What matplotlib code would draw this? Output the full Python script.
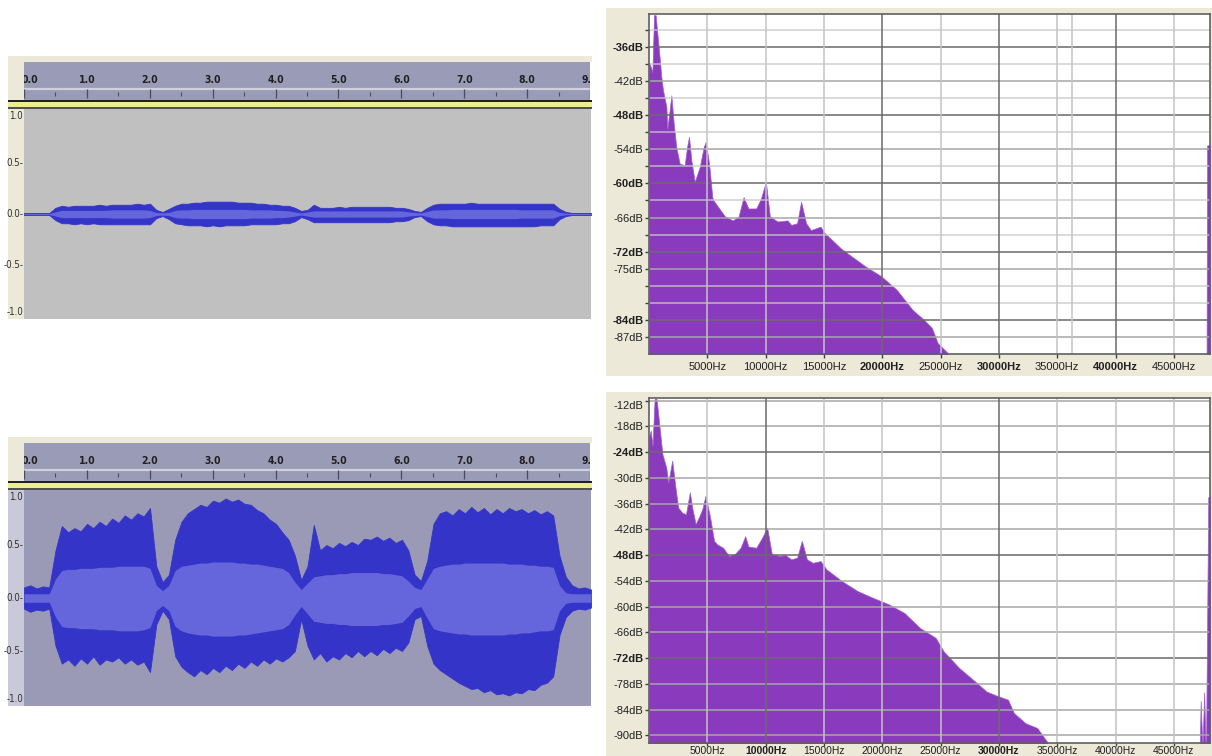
import numpy as np
import matplotlib.pyplot as plt

W, H = 1212, 756

BEIGE = '#ece9d8'
RULER = '#9a9bb6'
PEAK = '#3434c8'
RMS = '#6666dc'
PURPLE = '#8a3bbd'
SANS = ['Liberation Sans', 'DejaVu Sans']

# time grid of the envelopes (seconds)
t = np.round(np.arange(0, 9.01, 0.1), 1)

# quiet take: peak envelope and rms band
quiet_max = [
    0.01, 0.01, 0.01, 0.01, 0.01,
    0.06, 0.08, 0.07, 0.08, 0.08, 0.08, 0.08, 0.09, 0.08, 0.09,
    0.09, 0.09, 0.09, 0.10, 0.09, 0.10,
    0.04, 0.02, 0.05, 0.08,
    0.10, 0.10, 0.11, 0.11, 0.12, 0.12, 0.12, 0.12, 0.12, 0.11,
    0.11, 0.11, 0.10, 0.10, 0.09, 0.09, 0.08, 0.08, 0.06, 0.03,
    0.04, 0.09, 0.06, 0.06, 0.06, 0.07, 0.06, 0.07, 0.07, 0.07,
    0.07, 0.07, 0.07, 0.07, 0.06, 0.06, 0.05, 0.03, 0.02, 0.06,
    0.09, 0.10, 0.10, 0.10, 0.10, 0.10, 0.11, 0.10, 0.10, 0.10,
    0.10, 0.10, 0.10, 0.10, 0.10, 0.10, 0.10, 0.10, 0.10, 0.10,
    0.05, 0.02, 0.01, 0.01, 0.01, 0.01,
]
quiet_min = [
    -0.01, -0.01, -0.01, -0.01, -0.01,
    -0.06, -0.09, -0.09, -0.10, -0.09, -0.10, -0.09, -0.10, -0.10, -0.10,
    -0.10, -0.10, -0.10, -0.10, -0.10, -0.10,
    -0.04, -0.02, -0.05, -0.09,
    -0.10, -0.11, -0.11, -0.11, -0.12, -0.11, -0.12, -0.11, -0.11, -0.11,
    -0.11, -0.10, -0.10, -0.10, -0.10, -0.10, -0.09, -0.09, -0.07, -0.03,
    -0.05, -0.08, -0.08, -0.08, -0.08, -0.08, -0.08, -0.08, -0.08, -0.08,
    -0.08, -0.08, -0.08, -0.08, -0.07, -0.07, -0.06, -0.03, -0.02, -0.07,
    -0.10, -0.11, -0.11, -0.12, -0.12, -0.12, -0.12, -0.12, -0.12, -0.12,
    -0.12, -0.12, -0.12, -0.12, -0.12, -0.12, -0.12, -0.11, -0.11, -0.11,
    -0.05, -0.02, -0.01, -0.01, -0.01, -0.01,
]
quiet_rms = [
    0.005, 0.005, 0.005, 0.005, 0.005,
    0.02, 0.035, 0.035, 0.035, 0.035, 0.035, 0.035, 0.035, 0.035, 0.04,
    0.04, 0.04, 0.04, 0.04, 0.04, 0.035,
    0.015, 0.01, 0.015, 0.035,
    0.04, 0.04, 0.045, 0.045, 0.045, 0.045, 0.045, 0.045, 0.045, 0.045,
    0.045, 0.04, 0.04, 0.04, 0.04, 0.035, 0.035, 0.03, 0.02, 0.01,
    0.02, 0.03, 0.03, 0.03, 0.03, 0.03, 0.03, 0.03, 0.03, 0.03,
    0.03, 0.03, 0.03, 0.03, 0.03, 0.03, 0.02, 0.015, 0.01, 0.025,
    0.04, 0.04, 0.04, 0.045, 0.045, 0.045, 0.045, 0.045, 0.045, 0.045,
    0.045, 0.045, 0.045, 0.045, 0.04, 0.04, 0.04, 0.04, 0.04, 0.04,
    0.015, 0.008, 0.005, 0.005, 0.005, 0.005,
]

# amplified take
loud_max = [
    0.10, 0.12, 0.09, 0.11, 0.10,
    0.45, 0.68, 0.62, 0.66, 0.63, 0.70, 0.66, 0.72, 0.68, 0.75,
    0.71, 0.78, 0.74, 0.80, 0.77, 0.85,
    0.30, 0.15, 0.22, 0.55,
    0.72, 0.80, 0.84, 0.88, 0.86, 0.92, 0.90, 0.94, 0.91, 0.93,
    0.89, 0.88, 0.83, 0.80, 0.74, 0.70, 0.62, 0.55, 0.40, 0.17,
    0.30, 0.69, 0.45, 0.50, 0.47, 0.52, 0.49, 0.53, 0.50, 0.56,
    0.55, 0.58, 0.54, 0.57, 0.52, 0.55, 0.45, 0.22, 0.16, 0.35,
    0.70, 0.80, 0.82, 0.78, 0.84, 0.80, 0.86, 0.81, 0.85, 0.79,
    0.84, 0.80, 0.85, 0.82, 0.84, 0.80, 0.83, 0.79, 0.82, 0.78,
    0.40, 0.20, 0.12, 0.09, 0.10, 0.08,
]
loud_min = [
    -0.10, -0.13, -0.11, -0.12, -0.10,
    -0.45, -0.62, -0.58, -0.64, -0.57, -0.62, -0.55, -0.63, -0.58, -0.60,
    -0.56, -0.62, -0.58, -0.63, -0.60, -0.70,
    -0.25, -0.12, -0.20, -0.55,
    -0.65, -0.70, -0.74, -0.68, -0.72, -0.66, -0.70, -0.64, -0.68, -0.62,
    -0.66, -0.60, -0.64, -0.58, -0.62, -0.57, -0.60, -0.56, -0.50, -0.20,
    -0.45, -0.58, -0.52, -0.60, -0.55, -0.58, -0.52, -0.56, -0.50, -0.55,
    -0.50, -0.54, -0.48, -0.52, -0.47, -0.50, -0.42, -0.20, -0.17, -0.45,
    -0.62, -0.68, -0.72, -0.76, -0.80, -0.83, -0.86, -0.85, -0.89, -0.87,
    -0.91, -0.90, -0.92, -0.89, -0.90, -0.86, -0.87, -0.82, -0.80, -0.74,
    -0.35, -0.18, -0.12, -0.10, -0.11, -0.09,
]
loud_rms_hi = [
    0.04, 0.04, 0.04, 0.04, 0.04,
    0.18, 0.26, 0.27, 0.27, 0.28, 0.28, 0.28, 0.29, 0.29, 0.29,
    0.30, 0.30, 0.30, 0.30, 0.30, 0.28,
    0.12, 0.07, 0.12, 0.26,
    0.30, 0.31, 0.32, 0.33, 0.33, 0.34, 0.34, 0.34, 0.34, 0.33,
    0.33, 0.32, 0.32, 0.31, 0.30, 0.29, 0.28, 0.24, 0.15, 0.08,
    0.14, 0.20, 0.21, 0.22, 0.22, 0.23, 0.23, 0.24, 0.24, 0.24,
    0.24, 0.24, 0.23, 0.23, 0.22, 0.21, 0.16, 0.10, 0.08, 0.18,
    0.28, 0.30, 0.31, 0.32, 0.32, 0.33, 0.33, 0.33, 0.33, 0.33,
    0.33, 0.33, 0.32, 0.32, 0.32, 0.31, 0.31, 0.30, 0.30, 0.29,
    0.12, 0.05, 0.04, 0.04, 0.04, 0.04,
]
loud_rms_lo = [
    -0.04, -0.04, -0.04, -0.04, -0.04,
    -0.18, -0.27, -0.28, -0.28, -0.29, -0.29, -0.29, -0.30, -0.30, -0.30,
    -0.31, -0.31, -0.31, -0.31, -0.30, -0.28,
    -0.12, -0.07, -0.12, -0.27,
    -0.31, -0.33, -0.34, -0.35, -0.35, -0.36, -0.36, -0.36, -0.36, -0.35,
    -0.35, -0.34, -0.33, -0.32, -0.31, -0.30, -0.29, -0.25, -0.16, -0.08,
    -0.15, -0.22, -0.23, -0.24, -0.24, -0.25, -0.25, -0.26, -0.26, -0.26,
    -0.26, -0.26, -0.25, -0.25, -0.24, -0.23, -0.17, -0.10, -0.08, -0.19,
    -0.29, -0.31, -0.32, -0.33, -0.34, -0.34, -0.35, -0.35, -0.35, -0.35,
    -0.35, -0.35, -0.34, -0.34, -0.33, -0.33, -0.32, -0.31, -0.31, -0.30,
    -0.12, -0.05, -0.04, -0.04, -0.04, -0.04,
]

# spectrum of the quiet take
spec_top_hz = [0, 290, 430, 570, 770, 910, 1060, 1200, 1490, 1570, 1770, 1920,
               2120, 2340, 2630, 3060, 3260, 3430, 3630, 3920, 4350, 4690, 4860,
               5150, 5430, 5500, 6510, 7180, 7680, 8110, 8520, 9190, 9590, 10020,
               10360, 11030, 11870, 12200, 12700, 13040, 13470, 13880, 14710,
               15050, 16550, 18560, 19900, 21240, 22580, 23580, 24250, 24760,
               25600, 25900, 47800, 47850, 48100]
spec_top_db = [-38.6, -40.4, -30.4, -30.4, -34.8, -37.8, -41.3, -43.6, -46.5,
               -50.4, -47.1, -44.5, -49.5, -53.6, -56.5, -56.8, -53.6, -51.8,
               -55.9, -59.7, -57.1, -53.6, -52.7, -56.5, -62.4, -62.9, -65.8,
               -66.5, -65.8, -62.4, -64.4, -64.4, -62.7, -59.7, -65.8, -66.7,
               -66.5, -67.3, -67.0, -63.2, -67.0, -68.2, -67.6, -68.7, -71.6,
               -74.6, -76.3, -78.7, -82.2, -84.0, -85.4, -88.1, -89.8, -95.0,
               -95.0, -53.3, -53.3]

# spectrum of the amplified take
spec_bot_hz = [0, 150, 300, 480, 650, 880, 1150, 1480, 1650, 1990, 2230, 2500,
               2830, 3170, 3500, 3700, 4000, 4340, 4570, 4840, 5240, 5580, 5840,
               6350, 6850, 7350, 7850, 8250, 8520, 9190, 9690, 10130, 10530,
               11200, 11700, 12200, 12700, 13100, 13540, 14040, 14710, 15200,
               16550, 17890, 19230, 20570, 21900, 23240, 24580, 25250, 26590,
               27930, 28940, 29940, 30780, 31280, 32290, 33290, 34130, 34400,
               47200, 47300, 47450, 47600, 47750, 47850, 47950, 48100]
spec_bot_db = [-20.5, -19.0, -22.5, -11.6, -11.6, -17.5, -24.5, -27.6, -31.1,
               -26.0, -31.4, -36.9, -38.1, -38.5, -33.4, -36.9, -40.8, -38.8,
               -37.3, -34.2, -39.2, -44.7, -45.5, -46.3, -48.2, -47.8, -46.3,
               -43.6, -46.0, -46.3, -44.0, -41.6, -47.8, -48.2, -48.0, -49.0,
               -48.6, -44.7, -49.0, -49.8, -49.4, -51.3, -54.1, -56.4, -58.0,
               -59.5, -61.5, -65.0, -67.3, -70.4, -74.3, -77.4, -79.8, -80.9,
               -81.7, -84.8, -87.2, -88.3, -91.5, -96.0, -96.0, -82.0, -93.0,
               -80.0, -96.0, -65.0, -34.5, -34.5]

freq_ticks = [5000, 10000, 15000, 20000, 25000, 30000, 35000, 40000, 45000]


def rect(x0, y0, x1, y1):
    return [x0 / W, 1 - y1 / H, (x1 - x0) / W, (y1 - y0) / H]


def blank(fig, x0, y0, x1, y1, color):
    ax = fig.add_axes(rect(x0, y0, x1, y1))
    ax.set_facecolor(color)
    ax.set_xticks([])
    ax.set_yticks([])
    for s in ax.spines.values():
        s.set_visible(False)
    return ax


def track(fig, y0, wave_bg, strip_bg, hi, lo, rhi, rlo):
    # y0 = top of the track frame; layout in pixels below it
    blank(fig, 8, y0, 592, y0 + 6, BEIGE)
    blank(fig, 8, y0 + 6, 24, y0 + 44, BEIGE)
    r = blank(fig, 24, y0 + 6, 590, y0 + 44, RULER)
    r.set_xlim(0, 9)
    r.set_ylim(0, 1)
    r.axhline(0.3, color='#cfd0dc', lw=1.6)
    r.vlines(np.arange(10), 0.06, 0.28, color='#4a4a60', lw=0.9)
    r.vlines(np.arange(0.5, 9, 1), 0.1, 0.2, color='#4a4a60', lw=0.8)
    for i in range(10):
        x = i + 0.1 if i == 0 else i
        r.text(x, 0.52, f"{i}.0", ha='center', va='center', fontsize=7.5,
               family='DejaVu Sans', fontstretch='condensed',
               fontweight='bold', color='#202020', clip_on=True)
    blank(fig, 8, y0 + 44, 592, y0 + 46, '#202020')
    blank(fig, 8, y0 + 46, 592, y0 + 51, '#eeee90')
    blank(fig, 8, y0 + 51, 592, y0 + 53, '#505050')

    bottom = y0 + 53 + (210 if y0 < 300 else 216)
    s = blank(fig, 8, y0 + 53, 24, bottom, strip_bg)
    ax = blank(fig, 24, y0 + 53, 591, bottom, wave_bg)
    ax.set_xlim(0, 9)
    ax.set_ylim(-1.02, 1.02)
    ax.fill_between(t, lo, hi, color=PEAK, lw=0.6, edgecolor=PEAK)
    ax.fill_between(t, rlo, rhi, color=RMS, lw=0)

    s.set_xlim(0, 1)
    s.set_ylim(-1.02, 1.02)
    for v, lab, va in [(1.0, '1.0', 'top'), (0.5, '0.5-', 'center'),
                       (0.0, '0.0-', 'center'), (-0.5, '-0.5-', 'center'),
                       (-1.0, '-1.0', 'bottom')]:
        s.text(0.95, v, lab, ha='right', va=va, fontsize=7,
               family='DejaVu Sans', fontstretch='condensed',
               color='#303030')


def spectrum(fig, box, hz, db, ylim, yticks, ybold, minor, vdark, extra_v,
             xpad):
    ax = fig.add_axes(rect(*box))
    ax.set_facecolor('white')
    ax.fill_between(hz, db, -120, color=PURPLE, lw=0.5, edgecolor='#a060d0')
    ax.set_xlim(0, 48100)
    ax.set_ylim(*ylim)

    for v in minor:
        ax.axhline(v, color='#c8c8c8', lw=1.2, alpha=0.8)
    for v in yticks:
        c = '#6a6a6a' if v in ybold else '#a6a6a6'
        ax.axhline(v, color=c, lw=1.3, alpha=0.85)
    for f in freq_ticks + extra_v:
        c = '#6a6a6a' if f in vdark else '#c4c4c4'
        ax.axvline(f, color=c, lw=1.3, alpha=0.85)

    ax.set_yticks(yticks)
    ax.set_yticklabels([f"{v}dB" for v in yticks])
    ax.set_yticks(minor, minor=True)
    ax.set_xticks(freq_ticks)
    ax.set_xticklabels([f"{f}Hz" for f in freq_ticks])
    ax.tick_params(axis='both', which='both', direction='out', length=3,
                   width=1, color='#404040', labelsize=8, pad=1)
    ax.tick_params(axis='x', pad=xpad)
    for lab, v in zip(ax.get_yticklabels(), yticks):
        lab.set_family(SANS)
        lab.set_color('#202020')
        if v in ybold:
            lab.set_fontweight('bold')
    for lab, f in zip(ax.get_xticklabels(), freq_ticks):
        lab.set_family(SANS)
        lab.set_color('#202020')
        if f in vdark:
            lab.set_fontweight('bold')
    for sp in ax.spines.values():
        sp.set_color('#606060')
        sp.set_linewidth(1.2)
    return ax


fig = plt.figure(figsize=(W / 100, H / 100), dpi=100)
fig.patch.set_facecolor('white')

# waveform tracks
track(fig, 56, '#c0c0c0', BEIGE, quiet_max, quiet_min,
      quiet_rms, [-v for v in quiet_rms])
track(fig, 437, '#9a9ab6', '#c9c9da', loud_max, loud_min,
      loud_rms_hi, loud_rms_lo)

# spectrum windows
blank(fig, 606, 8, 1212, 376, BEIGE)
blank(fig, 606, 392, 1212, 756, BEIGE)

spectrum(fig, (649, 14, 1210, 354), spec_top_hz, spec_top_db, (-90, -30.2),
         [-36, -42, -48, -54, -60, -66, -72, -75, -84, -87],
         [-36, -48, -60, -72, -84],
         [-33, -39, -45, -51, -57, -63, -69, -78, -81],
         [20000, 30000, 40000], [36300], 3)

ax_b = spectrum(fig, (649, 398, 1210, 743), spec_bot_hz, spec_bot_db,
                (-91.8, -11.4),
                [-12, -18, -24, -30, -36, -42, -48, -54, -60, -66, -72, -78,
                 -84, -90],
                [-24, -48, -72], [], [10000, 30000], [], 0)
ax_b.tick_params(axis='x', length=2, labelsize=7.5)
ax_b.get_yticklabels()[0].set_verticalalignment('top')

fig.savefig('out.png', dpi=100)
